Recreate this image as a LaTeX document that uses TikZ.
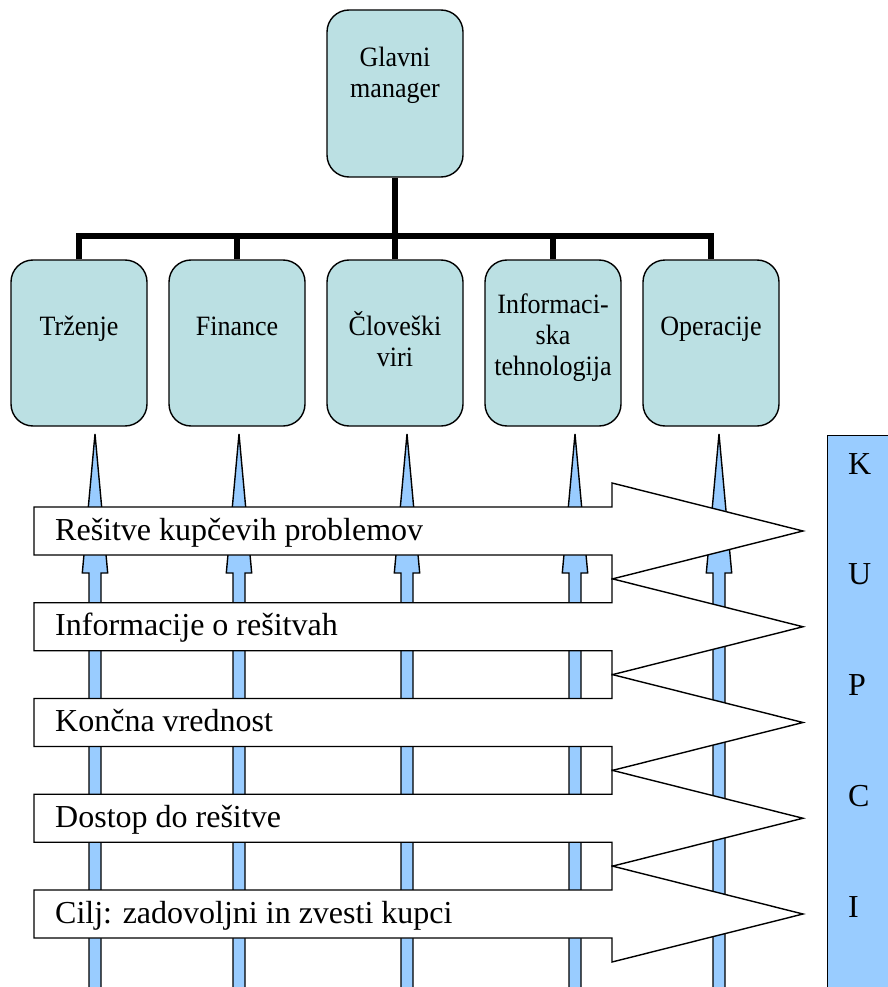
\documentclass[tikz,border=0pt]{standalone}
\usepackage{fontspec}
\usepackage{graphicx}
\setmainfont{Liberation Serif}
\definecolor{boxfill}{RGB}{187,224,227}
\definecolor{custblue}{RGB}{153,204,255}
\newcommand\sqz[1]{\scalebox{0.93}[1]{#1}}
\begin{document}
\begin{tikzpicture}[x=1pt,y=-1pt,
  dept/.style={draw=black, line width=1.4pt, fill=boxfill, rounded corners=22pt,
    minimum width=136pt, minimum height=166pt, inner sep=0pt},
  boxtext/.style={font=\fontsize{28}{31}\selectfont, align=center, anchor=base, inner sep=0pt},
  conn/.style={line width=6pt, black},
  varrow/.style={draw=black, line width=1.4pt, fill=custblue, line join=miter},
  harrow/.style={draw=black, line width=1.4pt, fill=white, line join=miter},
  atext/.style={font=\fontsize{32}{36}\selectfont, anchor=base west, inner sep=0pt},
  kletter/.style={font=\fontsize{32}{36}\selectfont, anchor=base west, inner sep=0pt}
]
\useasboundingbox (0,0) rectangle (888,987);
\clip (0,0) rectangle (888,987);

% org chart boxes
\node[dept, minimum height=167pt] (gm) at (395,93.5) {};
\node[dept] (b1) at (79,343) {};
\node[dept] (b2) at (237,343) {};
\node[dept] (b3) at (395,343) {};
\node[dept] (b4) at (553,343) {};
\node[dept] (b5) at (711,343) {};

\node[boxtext] (gmt) at (395,98) {\sqz{Glavni}\\\sqz{manager}};
\node[boxtext] (t1) at (79,335) {\sqz{Trženje}};
\node[boxtext] (t2) at (237,335) {\sqz{Finance}};
\node[boxtext] (t3) at (395,366) {\sqz{Človeški}\\\sqz{viri}};
\node[boxtext] (t4) at (553,375) {\sqz{Informaci-}\\\sqz{ska}\\\sqz{tehnologija}};
\node[boxtext] (t5) at (711,335) {\sqz{Operacije}};

% connectors
\coordinate (bar) at (395,236);
\draw[conn] (gm.south) -- (bar);
\draw[conn] (b1.north) -- (b1.north |- bar) -- (b5.north |- bar) -- (b5.north);
\draw[conn] (b2.north) -- (b2.north |- bar);
\draw[conn] (b3.north) -- (b3.north |- bar);
\draw[conn] (b4.north) -- (b4.north |- bar);

% customers column
\node[draw=black, line width=1.4pt, fill=custblue, anchor=north west,
  minimum width=80pt, minimum height=570pt, inner sep=0pt] (kupci) at (827,434.7) {};
\foreach \l [count=\i from 0] in {K,U,P,C,I}
  \node[kletter] (k\i) at (848,474+110.8*\i) {\l};

% vertical up arrows
\foreach \x in {95,239,407,575,719}
  \draw[varrow] (\x-6,1000) -- (\x-6,573) -- (\x-12.7,573) -- (\x,434)
    -- (\x+12.7,573) -- (\x+6,573) -- (\x+6,1000);

% horizontal block arrows
\foreach \c/\t [count=\i] in {531/{Rešitve kupčevih problemov},
    626.75/{Informacije o rešitvah},
    722.5/{Končna vrednost},
    818.25/{Dostop do rešitve},
    914/{Cilj: zadovoljni in zvesti kupci}}{
  \draw[harrow] (34,\c-24) -- (612,\c-24) -- (612,\c-48) -- (803,\c)
    -- (612,\c+48) -- (612,\c+24) -- (34,\c+24) -- cycle;
  \node[atext] (h\i) at (55,\c+9) {\t};
}
\end{tikzpicture}
\end{document}
